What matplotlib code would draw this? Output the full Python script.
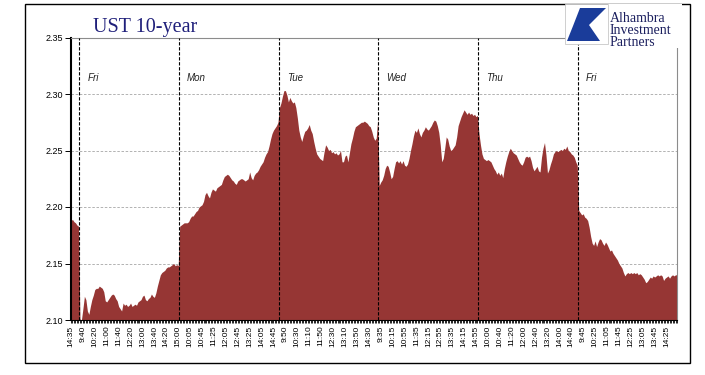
import numpy as np
import matplotlib
matplotlib.use("Agg")
import matplotlib.pyplot as plt
from matplotlib.patches import Rectangle, Polygon

# 5-minute closes (9:30 - 15:00 each session)
thu_tail = [2.188, 2.189, 2.187, 2.186, 2.184, 2.183]

fri_1 = [2.101, 2.100, 2.110, 2.121, 2.118, 2.108, 2.105, 2.112, 2.118, 2.122,
         2.127, 2.128, 2.128, 2.130, 2.129, 2.128, 2.125, 2.117, 2.116, 2.118,
         2.120, 2.122, 2.123, 2.122, 2.119, 2.117, 2.112, 2.110, 2.108, 2.115,
         2.113, 2.114, 2.112, 2.113, 2.115, 2.112, 2.113, 2.114, 2.113, 2.116,
         2.117, 2.118, 2.121, 2.122, 2.118, 2.117, 2.119, 2.120, 2.123, 2.121,
         2.120, 2.124, 2.130, 2.135, 2.140, 2.142, 2.143, 2.144, 2.146, 2.147,
         2.147, 2.148, 2.149, 2.150, 2.148, 2.149, 2.148]

mon = [2.183, 2.184, 2.185, 2.186, 2.186, 2.186, 2.187, 2.190, 2.192, 2.192,
       2.194, 2.196, 2.197, 2.200, 2.201, 2.202, 2.205, 2.211, 2.213, 2.210,
       2.208, 2.213, 2.216, 2.215, 2.214, 2.217, 2.218, 2.219, 2.220, 2.224,
       2.227, 2.228, 2.229, 2.228, 2.226, 2.224, 2.223, 2.221, 2.220, 2.223,
       2.224, 2.225, 2.225, 2.224, 2.223, 2.224, 2.225, 2.231, 2.226, 2.224,
       2.228, 2.230, 2.231, 2.233, 2.236, 2.238, 2.240, 2.244, 2.247, 2.249,
       2.254, 2.260, 2.265, 2.268, 2.270, 2.272, 2.275]

tue = [2.288, 2.292, 2.298, 2.303, 2.303, 2.299, 2.293, 2.297, 2.294, 2.292,
       2.293, 2.288, 2.279, 2.268, 2.262, 2.258, 2.263, 2.267, 2.268, 2.270,
       2.273, 2.268, 2.265, 2.258, 2.252, 2.247, 2.245, 2.243, 2.242, 2.241,
       2.249, 2.255, 2.253, 2.250, 2.251, 2.248, 2.249, 2.247, 2.248, 2.246,
       2.247, 2.250, 2.240, 2.240, 2.245, 2.246, 2.240, 2.248, 2.256, 2.261,
       2.267, 2.271, 2.272, 2.273, 2.274, 2.275, 2.275, 2.276, 2.275, 2.274,
       2.272, 2.271, 2.267, 2.262, 2.259, 2.261, 2.278]

wed = [2.219, 2.222, 2.224, 2.228, 2.234, 2.237, 2.236, 2.231, 2.225, 2.227,
       2.234, 2.240, 2.241, 2.239, 2.241, 2.238, 2.241, 2.237, 2.236, 2.238,
       2.243, 2.250, 2.256, 2.263, 2.268, 2.266, 2.270, 2.265, 2.262, 2.266,
       2.268, 2.271, 2.269, 2.268, 2.270, 2.272, 2.275, 2.277, 2.276, 2.272,
       2.266, 2.255, 2.240, 2.243, 2.252, 2.262, 2.260, 2.254, 2.250, 2.251,
       2.253, 2.255, 2.262, 2.272, 2.276, 2.280, 2.283, 2.286, 2.284, 2.282,
       2.284, 2.282, 2.283, 2.281, 2.282, 2.280, 2.281]

thu = [2.265, 2.255, 2.247, 2.243, 2.242, 2.241, 2.242, 2.241, 2.240, 2.237,
       2.234, 2.232, 2.229, 2.231, 2.228, 2.230, 2.226, 2.234, 2.240, 2.245,
       2.249, 2.252, 2.250, 2.248, 2.247, 2.246, 2.243, 2.240, 2.238, 2.237,
       2.240, 2.244, 2.245, 2.244, 2.245, 2.241, 2.235, 2.232, 2.234, 2.236,
       2.232, 2.231, 2.244, 2.252, 2.257, 2.246, 2.230, 2.233, 2.238, 2.242,
       2.247, 2.249, 2.250, 2.249, 2.250, 2.251, 2.250, 2.252, 2.251, 2.254,
       2.250, 2.249, 2.247, 2.246, 2.244, 2.240, 2.237]

fri_2 = [2.197, 2.195, 2.193, 2.194, 2.191, 2.190, 2.188, 2.182, 2.174, 2.168,
         2.166, 2.170, 2.165, 2.169, 2.172, 2.171, 2.168, 2.166, 2.169, 2.167,
         2.164, 2.161, 2.162, 2.159, 2.157, 2.155, 2.153, 2.150, 2.148, 2.146,
         2.142, 2.139, 2.141, 2.142, 2.141, 2.142, 2.141, 2.142, 2.141, 2.142,
         2.140, 2.141, 2.140, 2.138, 2.136, 2.133, 2.134, 2.136, 2.138, 2.137,
         2.139, 2.138, 2.139, 2.140, 2.139, 2.140, 2.139, 2.135, 2.137, 2.138,
         2.139, 2.137, 2.139, 2.140, 2.139, 2.140, 2.140]

day_names = ["Fri", "Mon", "Tue", "Wed", "Thu", "Fri"]

tick_labels = ["14:35", "9:40", "10:20", "11:00", "11:40", "12:20", "13:00",
               "13:40", "14:20", "15:00", "10:05", "10:45", "11:25", "12:05",
               "12:45", "13:25", "14:05", "14:45", "9:50", "10:30", "11:10",
               "11:50", "12:30", "13:10", "13:50", "14:30", "9:35", "10:15",
               "10:55", "11:35", "12:15", "12:55", "13:35", "14:15", "14:55",
               "10:00", "10:40", "11:20", "12:00", "12:40", "13:20", "14:00",
               "14:40", "9:45", "10:25", "11:05", "11:45", "12:25", "13:05",
               "13:45", "14:25"]

sessions = [fri_1, mon, tue, wed, thu, fri_2]
yields = np.array(thu_tail + fri_1 + mon + tue + wed + thu + fri_2)
x = np.arange(len(yields))

W, H = 705, 375
fig = plt.figure(figsize=(W / 100, H / 100), dpi=100)
ax = fig.add_axes([71 / W, 55 / H, 606 / W, 282.5 / H])

ax.fill_between(x, yields, 2.0, color="#963634", lw=0, zorder=1)
ax.set_xlim(0, len(yields) - 1)
ax.set_ylim(2.10, 2.35)

# y axis
ax.set_yticks([2.10, 2.15, 2.20, 2.25, 2.30, 2.35])
ax.set_yticklabels(["2.10", "2.15", "2.20", "2.25", "2.30", "2.35"],
                   family="Liberation Sans", fontsize=6.5)
ax.set_axisbelow(True)
ax.yaxis.grid(True, ls=(0, (3, 2)), color="#a6a6a6", lw=0.6)

# x axis: every 5-min point ticked, every 8th labelled
ax.set_xticks(x[::8])
ax.set_xticklabels(tick_labels, rotation=90, family="Liberation Sans", fontsize=6)
ax.set_xticks(x, minor=True)
ax.tick_params(axis="x", which="both", direction="out", length=2.5, width=0.6, pad=1.5)
ax.tick_params(axis="y", direction="out", length=4, width=0.7, pad=1.5)

for side in ["top", "right"]:
    ax.spines[side].set_color("#8c8c8c")
    ax.spines[side].set_linewidth(0.8)
ax.spines["left"].set_linewidth(1.5)
ax.spines["bottom"].set_linewidth(0.8)

# session separators and day labels
start = len(thu_tail)
for name, sess in zip(day_names, sessions):
    ax.axvline(start - 0.5, color="black", ls=(0, (3, 1.5)), lw=0.8, zorder=3)
    ax.text(start + 5, 2.314, name, fontsize=7, style="italic",
            family="Liberation Sans", color="#222222", va="center")
    start += len(sess)

# outer frame
fig.patches.append(Rectangle((25 / W, 12 / H), 665 / W, 359 / H,
                             transform=fig.transFigure, fill=False,
                             ec="black", lw=1))

fig.text(93 / W, 1 - 32 / H, "UST 10-year", family="Liberation Serif",
         fontsize=14.5, color="#1f1f7a", va="baseline")

# logo
fig.patches.append(Rectangle((565 / W, 1 - 44 / H), 43 / W, 40 / H,
                             transform=fig.transFigure, fc="white",
                             ec="#c8c8c8", lw=0.6, zorder=5))
logo_pts = [(580, 8), (606, 8), (589, 25), (600, 41), (567, 41), (573, 26)]
fig.patches.append(Polygon([(px / W, 1 - py / H) for px, py in logo_pts],
                           closed=True, transform=fig.transFigure,
                           fc="#1a3c9a", ec="none", zorder=6))
fig.patches.append(Rectangle((608 / W, 1 - 48 / H), 74 / W, 44 / H,
                             transform=fig.transFigure, fc="white",
                             ec="none", zorder=4))
for txt, base in zip(["Alhambra", "Investment", "Partners"], [22, 34, 46]):
    fig.text(610 / W, 1 - base / H, txt, family="Liberation Serif",
             fontsize=10, color="#1b1f5e", va="baseline", zorder=7)

fig.savefig("out.png", dpi=100)
